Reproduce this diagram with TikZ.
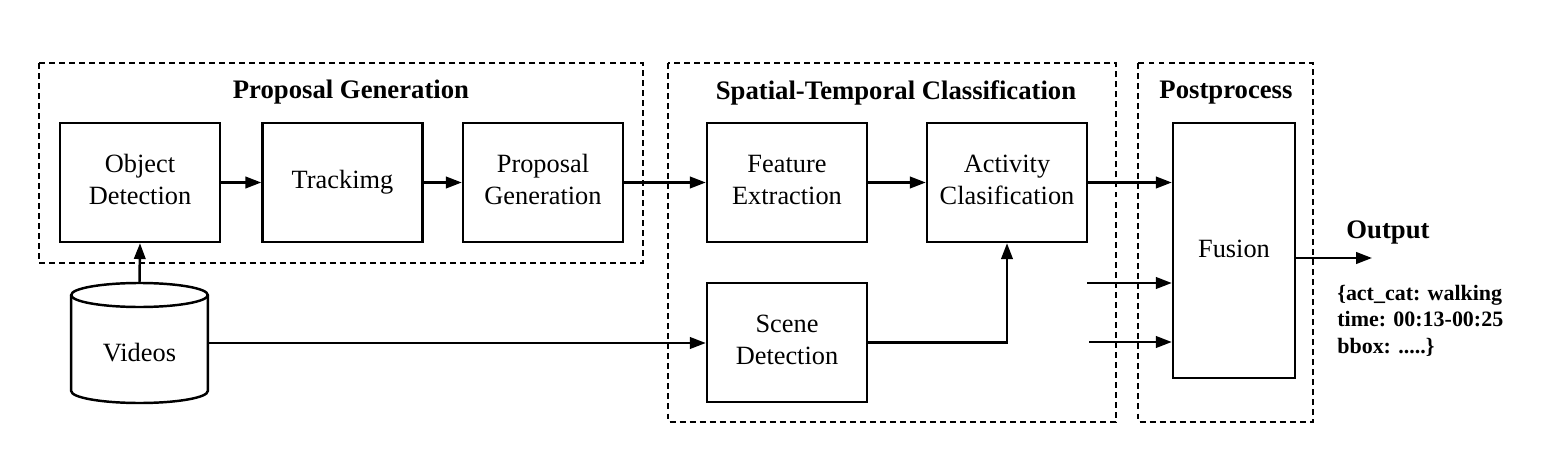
\documentclass[tikz,border=0pt]{standalone}
\usepackage{fontspec}
\setmainfont{Liberation Serif}
\usetikzlibrary{arrows.meta}
\begin{document}
\begin{tikzpicture}[x=0.02cm,y=-0.02cm,
  blk/.style={draw,line width=1.4pt,minimum width=3.2cm,minimum height=2.38cm,align=center,font=\fontsize{15}{18}\selectfont,inner sep=0pt},
  grp/.style={draw,line width=1.1pt,dash pattern=on 3.4pt off 2.3pt},
  ttl/.style={font=\bfseries\fontsize{15.2}{18}\selectfont,inner sep=0pt},
  arr/.style={line width=1.4pt,-{Triangle[length=9pt,width=6.5pt]}},
  ln/.style={line width=1.4pt}]
\useasboundingbox (0,0) rectangle (1553,463);
% groups
\draw[grp] (39,63) rectangle (643,263);
\draw[grp] (668,63) rectangle (1116,422);
\draw[grp] (1138,63) rectangle (1313,422);
\node[ttl] (t1) at (351,92.5) {Proposal Generation};
\node[ttl] (t2) at (896,92.5) {Spatial-Temporal Classification};
\node[ttl] (t3) at (1226,92.5) {Postprocess};
% blocks
\node[blk] (od) at (140,182.5) {Object\\Detection\vphantom{g}};
\node[blk] (tr) at (342.5,182.5) {Trackimg};
\node[blk] (pg) at (543,182.5) {Proposal\\Generation\vphantom{g}};
\node[blk] (fe) at (787,182.5) {Feature\\Extraction\vphantom{g}};
\node[blk] (ac) at (1007,182.5) {Activity\\Clasification\vphantom{g}};
\node[blk] (sd) at (787,342.5) {Scene\\Detection\vphantom{g}};
\node[blk,minimum width=2.44cm,minimum height=5.1cm] (fu) at (1234,250.5) {\raisebox{0.05cm}{Fusion}};
% cylinder
\node[font=\fontsize{15}{18}\selectfont,inner sep=0pt] (vid) at (139.5,352.5) {Videos};
\draw[ln] (139.5,295) ellipse [x radius=68.3,y radius=12];
\draw[ln] (71.2,295) -- (71.2,391) arc[start angle=180,end angle=360,x radius=68.3,y radius=-12] -- (207.8,295);
\coordinate (vtop) at (139.5,283);
\coordinate (vright) at (207.8,343);
% arrows
\draw[arr] (vtop) -- (od.south);
\draw[arr] (od.east) -- (tr.west);
\draw[arr] (tr.east) -- (pg.west);
\draw[arr] (pg.east) -- (fe.west);
\draw[arr] (fe.east) -- (ac.west);
\draw[arr] (ac.east) -- (ac.east -| fu.west);
\draw[arr] (vright) -- (vright -| sd.west);
\draw[arr] (sd.east) -| (ac.south);
\coordinate (f1) at (1087,283);
\coordinate (f2) at (1089,342);
\draw[arr] (f1) -- (f1 -| fu.west);
\draw[arr] (f2) -- (f2 -| fu.west);
\coordinate (oe) at (1372,258);
\draw[arr] (fu.east |- oe) -- (oe);
\node[ttl] (out) at (1388,232.5) {Output};
\node[font=\bfseries\fontsize{12.5}{15}\selectfont,align=left,anchor=north west,inner sep=0pt] (otext) at (1337,285) {\{act\_cat: walking\\time: 00:13-00:25\\bbox: .....\}};
\end{tikzpicture}
\end{document}
